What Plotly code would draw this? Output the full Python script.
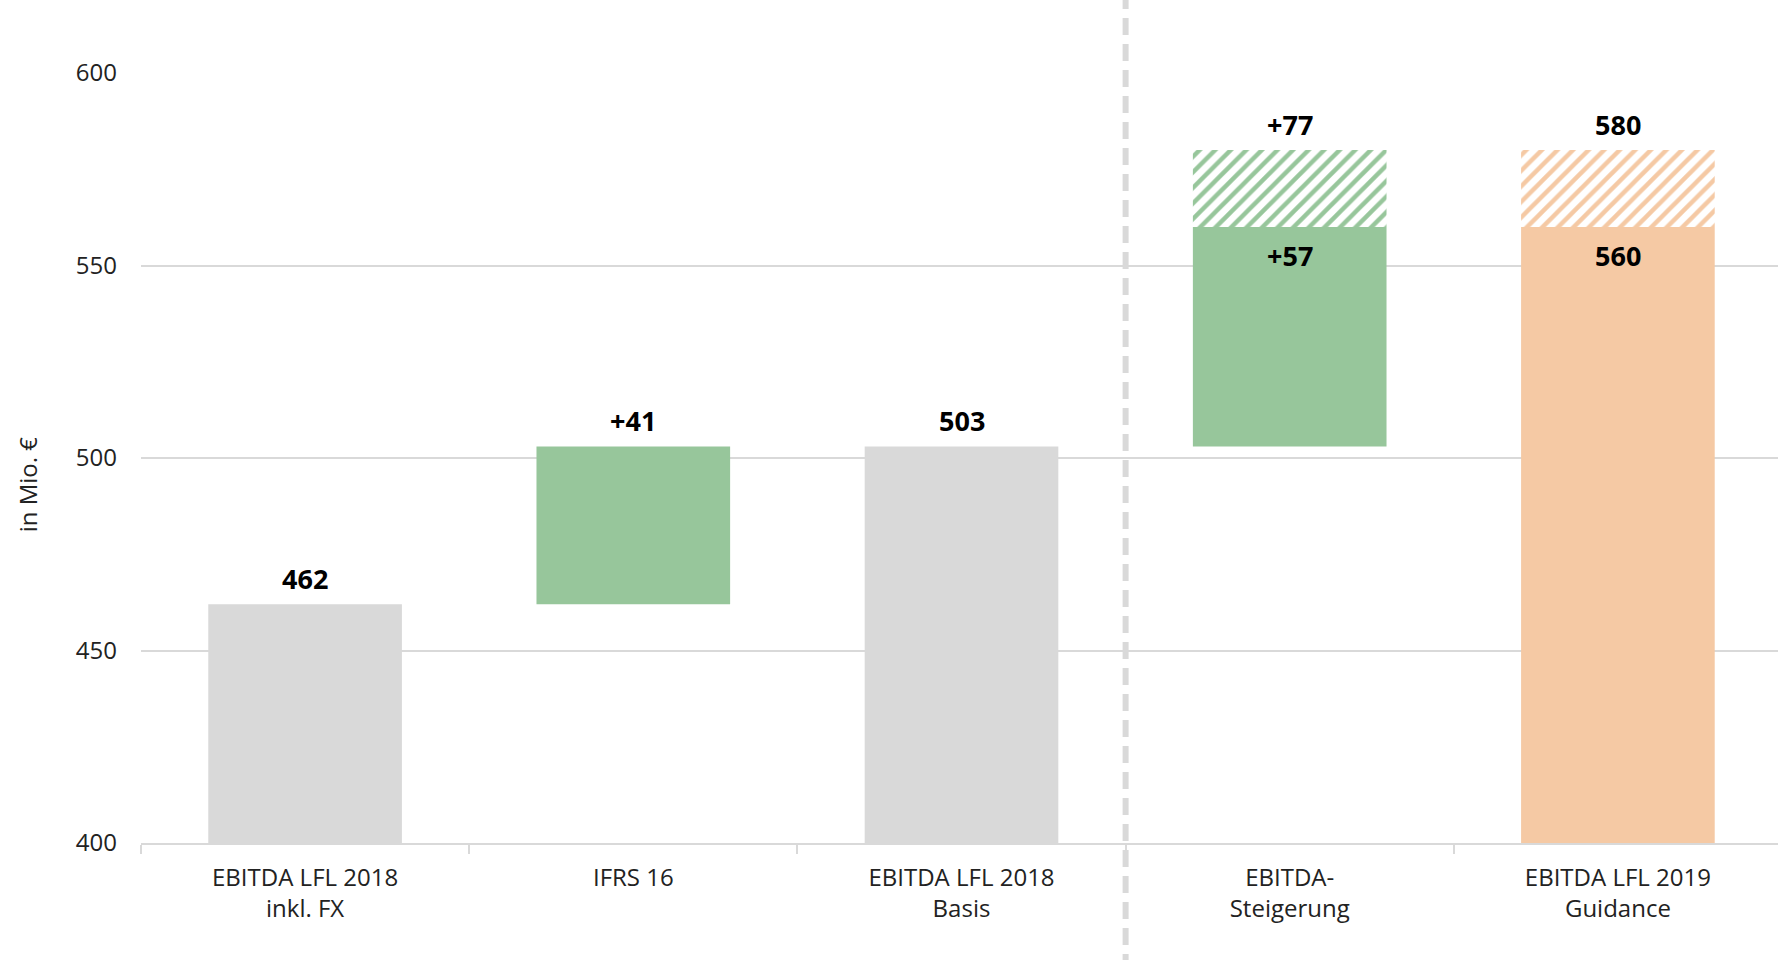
import plotly.graph_objects as go

# ---- data ----
categories = ["EBITDA LFL 2018<br>inkl. FX", "IFRS 16", "EBITDA LFL 2018<br>Basis",
              "EBITDA-<br>Steigerung", "EBITDA LFL 2019<br>Guidance"]
ebitda_2018_fx = 462
ifrs16_delta = 41
ebitda_2018_basis = 503
increase_low = 57
increase_high = 77
guidance_low = 560
guidance_high = 580
y_min, y_max = 400, 600
y_ticks = [400, 450, 500, 550, 600]

GRAY = "#d9d9d9"
GREEN = "#97c69b"
ORANGE = "#f5c9a4"
FONT = "Open Sans"
BAR_W = 0.59

fig = go.Figure()

# totals (gray)
fig.add_trace(go.Bar(
    x=categories, y=[ebitda_2018_fx, None, ebitda_2018_basis, None, None],
    marker=dict(color=GRAY, line=dict(width=0)), width=BAR_W))

# green deltas (solid)
fig.add_trace(go.Bar(
    x=categories,
    base=[None, ebitda_2018_fx, None, ebitda_2018_basis, None],
    y=[None, ifrs16_delta, None, increase_low, None],
    marker=dict(color=GREEN, line=dict(width=0)), width=BAR_W))

# green hatched range
fig.add_trace(go.Bar(
    x=categories,
    base=[None, None, None, ebitda_2018_basis + increase_low, None],
    y=[None, None, None, increase_high - increase_low, None],
    marker=dict(color="white", line=dict(width=0),
                pattern=dict(shape="/", fgcolor=GREEN, bgcolor="white", fgopacity=1,
                             size=11, solidity=0.4, fillmode="replace")),
    width=BAR_W))

# orange guidance (solid)
fig.add_trace(go.Bar(
    x=categories, y=[None, None, None, None, guidance_low],
    marker=dict(color=ORANGE, line=dict(width=0)), width=BAR_W))

# orange hatched range
fig.add_trace(go.Bar(
    x=categories,
    base=[None, None, None, None, guidance_low],
    y=[None, None, None, None, guidance_high - guidance_low],
    marker=dict(color="white", line=dict(width=0),
                pattern=dict(shape="/", fgcolor=ORANGE, bgcolor="white", fgopacity=1,
                             size=11, solidity=0.4, fillmode="replace")),
    width=BAR_W))

# value labels
labels = [
    (categories[0], ebitda_2018_fx, f"{ebitda_2018_fx}", "above"),
    (categories[1], ebitda_2018_fx + ifrs16_delta, f"+{ifrs16_delta}", "above"),
    (categories[2], ebitda_2018_basis, f"{ebitda_2018_basis}", "above"),
    (categories[3], ebitda_2018_basis + increase_high, f"+{increase_high}", "above"),
    (categories[3], ebitda_2018_basis + increase_low, f"+{increase_low}", "inside"),
    (categories[4], guidance_high, f"{guidance_high}", "above"),
    (categories[4], guidance_low, f"{guidance_low}", "inside"),
]
for cat, yv, txt, pos in labels:
    fig.add_annotation(
        x=cat, y=yv, text=f"<b>{txt}</b>", showarrow=False,
        yanchor="bottom" if pos == "above" else "top",
        yshift=5 if pos == "above" else -8,
        font=dict(family=FONT, size=27, color="black", weight=800))

# y-axis title
fig.add_annotation(
    xref="paper", yref="paper", x=-0.0694, y=0.466, text="in Mio. €",
    textangle=-90, showarrow=False, xanchor="center", yanchor="middle",
    font=dict(family=FONT, size=24, color="#222222"))

# dashed divider between actuals and guidance
n = len(categories)
div_x = (2.5 + 0.5) / n
fig.add_shape(type="line", xref="paper", yref="paper",
              x0=div_x, x1=div_x, y0=-0.2, y1=1.2,
              line=dict(color=GRAY, width=6, dash="17px,9px"))

fig.update_layout(
    width=1782, height=960,
    margin=dict(l=141, r=0, t=73, b=117),
    plot_bgcolor="white", paper_bgcolor="white",
    showlegend=False, barmode="overlay",
    font=dict(family=FONT, size=24, color="#222222"),
    xaxis=dict(type="category", range=[-0.5, n - 0.5], showline=True,
               linecolor=GRAY, linewidth=2, ticks="outside", tickson="boundaries",
               ticklen=9, tickcolor=GRAY, tickwidth=2, showgrid=False,
               ticklabelstandoff=12,
               tickfont=dict(family=FONT, size=24, color="#222222")),
    yaxis=dict(range=[y_min, y_max], tickvals=y_ticks, showgrid=True,
               gridcolor=GRAY, gridwidth=2, zeroline=False, showline=False,
               ticks="", ticklabelstandoff=23,
               tickfont=dict(family=FONT, size=24, color="#222222")),
)

fig.write_html("out.html", config={"displayModeBar": False},
               post_script="document.body.style.margin='0';document.body.style.overflow='hidden';")
